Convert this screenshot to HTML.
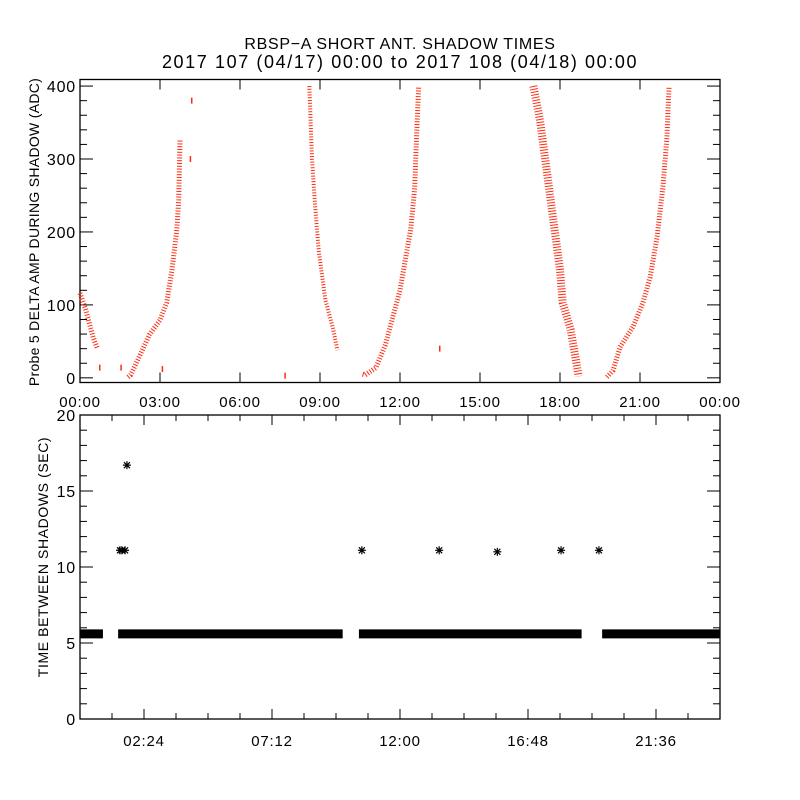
<!DOCTYPE html>
<html><head><meta charset="utf-8"><style>
html,body{margin:0;padding:0;background:#fff}
svg{display:block}
text{font-family:"Liberation Sans",sans-serif;fill:#000}
</style></head><body>
<svg id="c" width="800" height="800" viewBox="0 0 800 800">
<text x="400" y="49" font-size="16" letter-spacing="0.7" text-anchor="middle">RBSP−A SHORT ANT. SHADOW TIMES</text>
<text x="400" y="68" font-size="18" letter-spacing="1.6" text-anchor="middle">2017 107 (04/17) 00:00 to 2017 108 (04/18) 00:00</text>
<g id="gtop"></g>
<g id="gbot"></g>
</svg>
<script>
// ---- top panel data (hours, ADC) ----
const topTickLabels = ["00:00","03:00","06:00","09:00","12:00","15:00","18:00","21:00","00:00"];
const topYTicks = [0,100,200,300,400];
const branch1T = [0.0,0.2,0.35,0.5,0.65];
const branch1V = [116,95,75,55,40];
const branch2T = [1.8,1.9,2.25,2.6,3.0,3.25,3.45,3.63,3.7,3.75];
const branch2V = [1,4,31,59,79,103,148,203,244,326];
const branch3T = [8.6,8.7,8.8,8.95,9.2,9.5,9.65];
const branch3V = [400,300,244,175,107,66,38];
const branch4T = [10.6,10.7,11.1,11.45,11.75,12.0,12.2,12.4,12.55,12.62,12.7];
const branch4V = [5,4,14,45,86,120,162,203,260,330,400];
const branch5T = [17.0,17.25,17.5,17.75,18.0,18.1,18.4,18.55,18.7];
const branch5V = [400,353,285,216,148,103,66,34,2];
const branch6T = [19.76,19.99,20.25,20.74,21.11,21.38,21.64,21.86,22.01,22.09];
const branch6V = [1,10,42,70,103,138,193,262,330,400];
const strayT = [0.75,1.55,3.1,4.15,4.2,7.7,13.5];
const strayV = [14,14,12,300,380,3,40];
// ---- bottom panel data (hours, sec) ----
const botTickLabels = ["02:24","07:12","12:00","16:48","21:36"];
const botYTicks = [0,5,10,15,20];
const bandStart = [0.0,1.43,10.46,19.58];
const bandEnd = [0.86,9.85,18.81,24.0];
const bandV = [5.6,5.6,5.6,5.6];
const outT = [1.5,1.57,1.69,1.76,10.57,13.47,15.65,18.04,19.46];
const outV = [11.1,11.1,11.1,16.7,11.1,11.1,11.0,11.1,11.1];

const NS="http://www.w3.org/2000/svg";
function mk(p,tag,at){const e=document.createElementNS(NS,tag);for(const k in at)e.setAttribute(k,at[k]);p.appendChild(e);return e;}
const L=80,R=720;
const xs=h=>L+h/24*(R-L);
const T0=79.5,T1=382.5,tymin=-6.4,tymax=409;
const ty=v=>T1-(v-tymin)/(tymax-tymin)*(T1-T0);
const gTop=document.getElementById('gtop');
const B0=415,B1=719;
const by=v=>B1-v/20*(B1-B0);
const gBot=document.getElementById('gbot');

function frame(g,y0,y1,name){
  const r=mk(g,'rect',{x:L,y:y0,width:R-L,height:y1-y0,fill:'none',stroke:'#000','stroke-width':1.3});
  
  
}
frame(gTop,T0,T1,'top-plot-frame');
frame(gBot,B0,B1,'bottom-plot-frame');

topTickLabels.forEach((lab,i)=>{
  const x=xs(i*3);
  mk(gTop,'line',{x1:x,x2:x,y1:T1,y2:T1-10,stroke:'#000'});
  mk(gTop,'line',{x1:x,x2:x,y1:T0,y2:T0+10,stroke:'#000'});
  const t=mk(gTop,'text',{x:x,y:407,'font-size':15,'letter-spacing':0.8,'text-anchor':'middle'});
  t.textContent=lab;
  
  
});
for(let v=0;v<=400;v+=20){
  const y=ty(v),len=(v%100===0)?13:7;
  mk(gTop,'line',{x1:L,x2:L+len,y1:y,y2:y,stroke:'#000'});
  mk(gTop,'line',{x1:R,x2:R-len,y1:y,y2:y,stroke:'#000'});
}
topYTicks.forEach(v=>{
  const t=mk(gTop,'text',{x:76,y:ty(v)+6,'font-size':16,'letter-spacing':0.8,'text-anchor':'end'});
  t.textContent=v;
  
  
});
const yl=mk(gTop,'text',{x:39,y:232,'font-size':14,'letter-spacing':0.3,'text-anchor':'middle',transform:'rotate(-90 39 232)'});
yl.textContent='Probe 5 DELTA AMP DURING SHADOW (ADC)';



const branches=[[branch1T,branch1V,5],[branch2T,branch2V,5],[branch3T,branch3V,4],[branch4T,branch4V,5],[branch5T,branch5V,8],[branch6T,branch6V,5]];
branches.forEach((b,i)=>{
  const pts=b[0].map((t,j)=>xs(t)+','+ty(b[1][j])).join(' ');
  const p=mk(gTop,'polyline',{points:pts,fill:'none',stroke:'#ff2a10','stroke-width':b[2],'stroke-dasharray':'1 1.8','stroke-linejoin':'round'});
  
  
});
strayT.forEach((t,i)=>{
  const r=mk(gTop,'rect',{x:xs(t)-1,y:ty(strayV[i])-3,width:1.5,height:6,fill:'#ff2a10'});
  
  
});

for(let k=0;k<=20;k++){
  const x=xs(k*1.2),len=(k%4===2)?10:6;
  mk(gBot,'line',{x1:x,x2:x,y1:B1,y2:B1-len,stroke:'#000'});
  mk(gBot,'line',{x1:x,x2:x,y1:B0,y2:B0+len,stroke:'#000'});
}
botTickLabels.forEach((lab,i)=>{
  const t=mk(gBot,'text',{x:xs(2.4+i*4.8),y:746,'font-size':15,'letter-spacing':0.8,'text-anchor':'middle'});
  t.textContent=lab;
  
  
});
for(let v=0;v<=20;v++){
  const y=by(v),len=(v%5===0)?13:7;
  mk(gBot,'line',{x1:L,x2:L+len,y1:y,y2:y,stroke:'#000'});
  mk(gBot,'line',{x1:R,x2:R-len,y1:y,y2:y,stroke:'#000'});
}
botYTicks.forEach(v=>{
  const t=mk(gBot,'text',{x:76,y:by(v)+6,'font-size':16,'letter-spacing':0.8,'text-anchor':'end'});
  t.textContent=v;
  
  
});
const yl2=mk(gBot,'text',{x:48,y:557,'font-size':14,'letter-spacing':0.6,'text-anchor':'middle',transform:'rotate(-90 48 557)'});
yl2.textContent='TIME BETWEEN SHADOWS (SEC)';



bandStart.forEach((s,i)=>{
  const x0=xs(s),x1=xs(bandEnd[i]);
  const r=mk(gBot,'rect',{x:x0,y:by(bandV[i])-4.5,width:x1-x0,height:9,fill:'#000'});
  
  
});
outT.forEach((t,i)=>{
  const cx=xs(t),cy=by(outV[i]);
  const g=mk(gBot,'g',{stroke:'#000','stroke-width':1.2});
  
  
  mk(g,'line',{x1:cx-4,x2:cx+4,y1:cy,y2:cy});
  mk(g,'line',{x1:cx,x2:cx,y1:cy-4,y2:cy+4});
  mk(g,'line',{x1:cx-3,x2:cx+3,y1:cy-3,y2:cy+3});
  mk(g,'line',{x1:cx-3,x2:cx+3,y1:cy+3,y2:cy-3});
});
</script>
</body></html>
